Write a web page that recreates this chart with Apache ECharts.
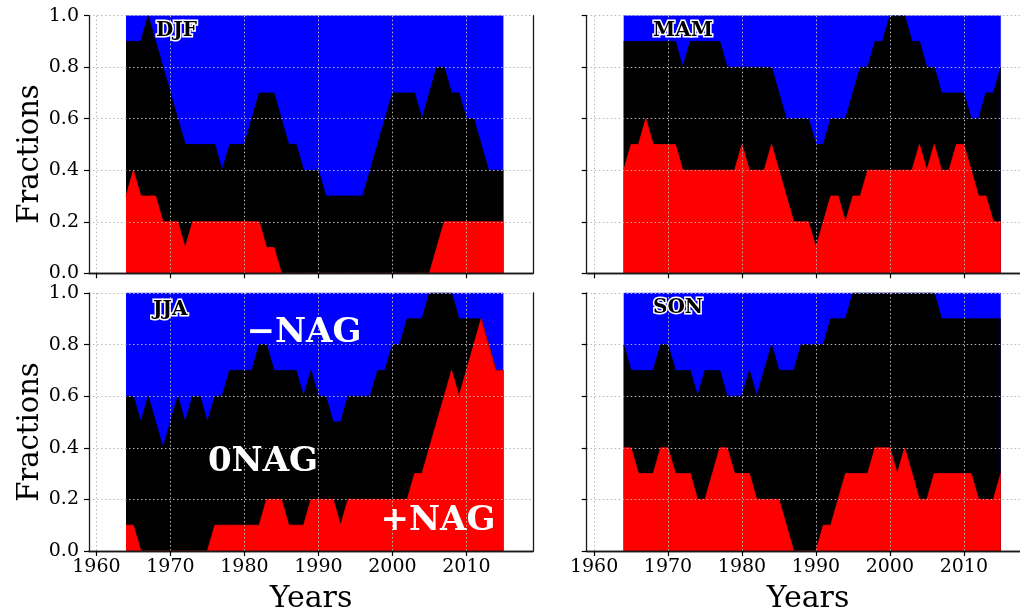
<!DOCTYPE html>
<html>
<head>
<meta charset="utf-8">
<script src="https://cdn.jsdelivr.net/npm/echarts@6/dist/echarts.min.js"></script>
<style>html,body{margin:0;padding:0;background:#fff}#c{width:1020px;height:615px}</style>
</head>
<body>
<div id="c"></div>
<script>
// ---------------- data ----------------
const years = [1964,1965,1966,1967,1968,1969,1970,1971,1972,1973,1974,1975,1976,1977,1978,1979,1980,1981,1982,1983,1984,1985,1986,1987,1988,1989,
               1990,1991,1992,1993,1994,1995,1996,1997,1998,1999,2000,2001,2002,2003,2004,2005,2006,2007,2008,2009,2010,2011,2012,2013,2014,2015];
const xTicks = [1960,1970,1980,1990,2000,2010];
const seasons = ['DJF','MAM','JJA','SON'];
const classNames = ['+NAG','0NAG','\u2212NAG'];

// DJF
const djfPos  = [0.3,0.4,0.3,0.3,0.3,0.2,0.2,0.2,0.1,0.2,0.2,0.2,0.2,0.2,0.2,0.2,0.2,0.2,0.2,0.1,0.1,0,0,0,0,0,
                 0,0,0,0,0,0,0,0,0,0,0,0,0,0,0,0,0.1,0.2,0.2,0.2,0.2,0.2,0.2,0.2,0.2,0.2];
const djfZero = [0.6,0.5,0.6,0.7,0.6,0.6,0.5,0.4,0.4,0.3,0.3,0.3,0.3,0.2,0.3,0.3,0.3,0.4,0.5,0.6,0.6,0.6,0.5,0.5,0.4,0.4,
                 0.4,0.3,0.3,0.3,0.3,0.3,0.3,0.4,0.5,0.6,0.7,0.7,0.7,0.7,0.6,0.7,0.7,0.6,0.5,0.5,0.4,0.4,0.3,0.2,0.2,0.2];
const djfNeg  = [0.1,0.1,0.1,0,0.1,0.2,0.3,0.4,0.5,0.5,0.5,0.5,0.5,0.6,0.5,0.5,0.5,0.4,0.3,0.3,0.3,0.4,0.5,0.5,0.6,0.6,
                 0.6,0.7,0.7,0.7,0.7,0.7,0.7,0.6,0.5,0.4,0.3,0.3,0.3,0.3,0.4,0.3,0.2,0.2,0.3,0.3,0.4,0.4,0.5,0.6,0.6,0.6];
// MAM
const mamPos  = [0.4,0.5,0.5,0.6,0.5,0.5,0.5,0.5,0.4,0.4,0.4,0.4,0.4,0.4,0.4,0.4,0.5,0.4,0.4,0.4,0.5,0.4,0.3,0.2,0.2,0.2,
                 0.1,0.2,0.3,0.3,0.2,0.3,0.3,0.4,0.4,0.4,0.4,0.4,0.4,0.4,0.5,0.4,0.5,0.4,0.4,0.5,0.5,0.4,0.3,0.3,0.2,0.2];
const mamZero = [0.5,0.4,0.4,0.3,0.4,0.4,0.4,0.4,0.4,0.5,0.5,0.5,0.5,0.5,0.4,0.4,0.3,0.4,0.4,0.4,0.3,0.3,0.3,0.4,0.4,0.4,
                 0.4,0.3,0.3,0.3,0.4,0.4,0.5,0.4,0.5,0.5,0.6,0.6,0.6,0.5,0.4,0.4,0.3,0.3,0.3,0.2,0.2,0.2,0.3,0.4,0.5,0.6];
const mamNeg  = [0.1,0.1,0.1,0.1,0.1,0.1,0.1,0.1,0.2,0.1,0.1,0.1,0.1,0.1,0.2,0.2,0.2,0.2,0.2,0.2,0.2,0.3,0.4,0.4,0.4,0.4,
                 0.5,0.5,0.4,0.4,0.4,0.3,0.2,0.2,0.1,0.1,0,0,0,0.1,0.1,0.2,0.2,0.3,0.3,0.3,0.3,0.4,0.4,0.3,0.3,0.2];
// JJA
const jjaPos  = [0.1,0.1,0,0,0,0,0,0,0,0,0,0,0.1,0.1,0.1,0.1,0.1,0.1,0.1,0.2,0.2,0.2,0.1,0.1,0.1,0.2,
                 0.2,0.2,0.2,0.1,0.2,0.2,0.2,0.2,0.2,0.2,0.2,0.2,0.2,0.3,0.3,0.4,0.5,0.6,0.7,0.6,0.7,0.8,0.9,0.8,0.7,0.7];
const jjaZero = [0.5,0.5,0.5,0.6,0.5,0.4,0.5,0.6,0.5,0.6,0.6,0.5,0.5,0.5,0.6,0.6,0.6,0.6,0.7,0.6,0.5,0.5,0.6,0.6,0.5,0.5,
                 0.4,0.4,0.3,0.4,0.4,0.4,0.4,0.4,0.5,0.5,0.6,0.6,0.7,0.6,0.6,0.6,0.5,0.4,0.3,0.3,0.2,0.1,0,0,0,0];
const jjaNeg  = [0.4,0.4,0.5,0.4,0.5,0.6,0.5,0.4,0.5,0.4,0.4,0.5,0.4,0.4,0.3,0.3,0.3,0.3,0.2,0.2,0.3,0.3,0.3,0.3,0.4,0.3,
                 0.4,0.4,0.5,0.5,0.4,0.4,0.4,0.4,0.3,0.3,0.2,0.2,0.1,0.1,0.1,0,0,0,0,0.1,0.1,0.1,0.1,0.2,0.3,0.3];
// SON
const sonPos  = [0.4,0.4,0.3,0.3,0.3,0.4,0.4,0.3,0.3,0.3,0.2,0.2,0.3,0.4,0.4,0.3,0.3,0.3,0.2,0.2,0.2,0.2,0.1,0,0,0,
                 0,0.1,0.1,0.2,0.3,0.3,0.3,0.3,0.4,0.4,0.4,0.3,0.4,0.3,0.2,0.2,0.3,0.3,0.3,0.3,0.3,0.3,0.2,0.2,0.2,0.3];
const sonZero = [0.4,0.3,0.4,0.4,0.4,0.4,0.4,0.4,0.4,0.4,0.4,0.5,0.4,0.3,0.2,0.3,0.3,0.4,0.4,0.5,0.6,0.5,0.6,0.7,0.8,0.8,
                 0.8,0.7,0.8,0.7,0.6,0.7,0.7,0.7,0.6,0.6,0.6,0.7,0.6,0.7,0.8,0.8,0.7,0.6,0.6,0.6,0.6,0.6,0.7,0.7,0.7,0.6];
const sonNeg  = [0.2,0.3,0.3,0.3,0.3,0.2,0.2,0.3,0.3,0.3,0.4,0.3,0.3,0.3,0.4,0.4,0.4,0.3,0.4,0.3,0.2,0.3,0.3,0.3,0.2,0.2,
                 0.2,0.2,0.1,0.1,0.1,0,0,0,0,0,0,0,0,0,0,0,0,0.1,0.1,0.1,0.1,0.1,0.1,0.1,0.1,0.1];

const panelData = [
  [djfPos, djfZero, djfNeg],
  [mamPos, mamZero, mamNeg],
  [jjaPos, jjaZero, jjaNeg],
  [sonPos, sonZero, sonNeg]
];

// ---------------- layout / style ----------------
const FONT = 'DejaVu Serif';
const colors = ['#ff0000', '#000000', '#0000ff'];
// right-hand panels run past the right edge of the picture (cropped), so their x range is shortened
const grids = [
  {left: 89,    top: 15.7, width: 444, height: 257.6},
  {left: 586.7, top: 15.7, right: 0,   height: 257.6},
  {left: 89,    top: 293,  width: 444, height: 258},
  {left: 586.7, top: 293,  right: 0,   height: 258}
];
const xMax = [2019, 2017.6, 2019, 2017.6];
const gridLine = {show: true, lineStyle: {color: '#b8b8b8', width: 1, type: [1.5, 2.5]}};
const spine = {show: true, lineStyle: {color: '#1a1a1a', width: 1.3}};

const xAxes = [], yAxes = [], series = [];
grids.forEach((g, i) => {
  const bottomRow = i >= 2, leftCol = (i % 2) === 0;
  xAxes.push({
    type: 'value', gridIndex: i, min: 1959, max: xMax[i], position: 'bottom', z: 5,
    axisLine: spine,
    axisTick: {show: true, inside: false, length: 5, customValues: xTicks, lineStyle: {color: '#000', width: 1.2}},
    axisLabel: {show: bottomRow, customValues: xTicks, margin: 7, color: '#000', fontFamily: FONT, fontSize: 19,
                formatter: v => String(v)},
    splitLine: gridLine
  });
  yAxes.push({
    type: 'value', gridIndex: i, min: 0, max: 1, interval: 0.2, position: 'left', z: 5,
    axisLine: spine,
    axisTick: {show: true, inside: false, length: 5, lineStyle: {color: '#000', width: 1.2}},
    axisLabel: {show: leftCol, margin: 10, color: '#000', fontFamily: FONT, fontSize: 19,
                formatter: v => v.toFixed(1)},
    splitLine: gridLine
  });
});
grids.forEach((g, i) => {
  const leftCol = (i % 2) === 0;
  xAxes.push({type: 'value', gridIndex: i, min: 1959, max: xMax[i], position: 'top', z: 5,
    axisLine: spine, axisTick: {show: false}, axisLabel: {show: false}, splitLine: {show: false}});
  yAxes.push({type: 'value', gridIndex: i, min: 0, max: 1, position: 'right', z: 5,
    axisLine: {show: leftCol, lineStyle: spine.lineStyle}, axisTick: {show: false}, axisLabel: {show: false}, splitLine: {show: false}});
});

// Stack the three classes (cumulative tops), draw each top filled down to 0.
// Draw order: -NAG (top), 0NAG, +NAG so the lower classes sit over the upper ones.
panelData.forEach((arrs, i) => {
  const [pos, zero, neg] = arrs;
  const tops = [
    pos.map(v => +v.toFixed(3)),
    pos.map((v, j) => +(v + zero[j]).toFixed(3)),
    pos.map((v, j) => +(v + zero[j] + neg[j]).toFixed(3))
  ];
  [2, 1, 0].forEach(k => {
    series.push({
      type: 'line', name: seasons[i] + ' ' + classNames[k],
      xAxisIndex: i, yAxisIndex: i,
      data: years.map((y, j) => [y, tops[k][j]]),
      showSymbol: false, symbol: 'none', silent: true,
      lineStyle: {color: colors[k], width: 0.8},
      itemStyle: {color: colors[k]},
      areaStyle: {color: colors[k], opacity: 1, origin: 'start'},
      z: 2
    });
  });
});

const graphic = [
  {type: 'text', x: 30, y: 154, rotation: Math.PI / 2, z: 100,
   style: {text: 'Fractions', font: '29px "' + FONT + '"', fill: '#000', align: 'center', verticalAlign: 'middle'}},
  {type: 'text', x: 30, y: 432, rotation: Math.PI / 2, z: 100,
   style: {text: 'Fractions', font: '29px "' + FONT + '"', fill: '#000', align: 'center', verticalAlign: 'middle'}},
  {type: 'text', x: 311, y: 599, z: 100,
   style: {text: 'Years', font: '30px "' + FONT + '"', fill: '#000', align: 'center', verticalAlign: 'middle'}},
  {type: 'text', x: 808, y: 599, z: 100,
   style: {text: 'Years', font: '30px "' + FONT + '"', fill: '#000', align: 'center', verticalAlign: 'middle'}}
];
const seasonPos = [[156, 31], [653, 31], [153, 310], [653, 308]];
seasons.forEach((s, i) => {
  graphic.push({type: 'text', x: seasonPos[i][0], y: seasonPos[i][1], z: 100,
    style: {text: s, font: 'bold 20px "' + FONT + '"', fill: '#000', stroke: '#fff', lineWidth: 3,
            align: 'left', verticalAlign: 'middle'}});
});
const nagPos = [[438, 521], [263, 462], [304, 333]];
classNames.forEach((c, k) => {
  graphic.push({type: 'text', x: nagPos[k][0], y: nagPos[k][1], z: 100,
    style: {text: c, font: 'bold 34px "' + FONT + '"', fill: '#fff', align: 'center', verticalAlign: 'middle'}});
});

const chart = echarts.init(document.getElementById('c'), null, {renderer: 'canvas'});
chart.setOption({
  animation: false,
  backgroundColor: '#fff',
  grid: grids.map(g => Object.assign({containLabel: false}, g)),
  xAxis: xAxes,
  yAxis: yAxes,
  series: series,
  graphic: graphic
});
</script>
</body>
</html>
